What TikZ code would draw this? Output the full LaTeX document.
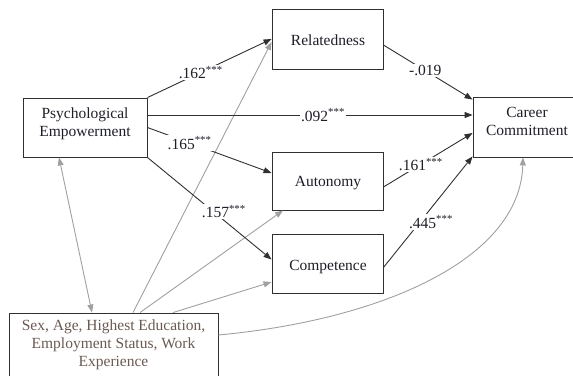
\documentclass[tikz,border=0pt]{standalone}
\usepackage{fontspec}
\setmainfont{Liberation Serif}
\usetikzlibrary{arrows.meta,calc}
\definecolor{lineblk}{HTML}{303030}
\definecolor{linegry}{HTML}{A0A0A0}
\definecolor{txtblk}{HTML}{1E1E28}
\definecolor{txtbrn}{HTML}{6A5A52}
\tikzset{
  box/.style={draw=lineblk, line width=0.9pt, rectangle, inner sep=0pt},
  txt/.style={inner sep=0pt, align=center, text=txtblk, font=\fontsize{15.5}{18}\selectfont},
  lbl/.style={fill=white, inner sep=1.5pt, text=txtblk, font=\fontsize{15.5}{18}\selectfont},
  blkarrow/.style={draw=lineblk, line width=0.9pt, -{Triangle[length=8pt,width=6pt]}},
  gryarrow/.style={draw=linegry, line width=0.9pt, -{Triangle[length=8pt,width=6pt]}},
}
\newcommand{\stars}{\textsuperscript{***}}
\begin{document}
\begin{tikzpicture}[x=1pt,y=-1pt]
\useasboundingbox (0,0) rectangle (573,375);
% boxes
\node[box, minimum width=124pt, minimum height=59pt] (pe) at (85,127.5) {};
\node[txt] (pet) at (85,124) {Psychological\\Empowerment};
\node[box, minimum width=111pt, minimum height=60pt] (rel) at (327.5,39) {};
\node[txt] (relt) at (328,40) {Relatedness};
\node[box, minimum width=111pt, minimum height=58pt] (aut) at (327.5,181) {};
\node[txt] (autt) at (328,183) {Autonomy};
\node[box, minimum width=111pt, minimum height=59pt] (com) at (327.5,263.5) {};
\node[txt] (comt) at (328,267) {Competence};
\node[box, minimum width=108pt, minimum height=60pt] (cc) at (527,127) {};
\node[txt] (cct) at (527,121) {Career\\Commitment};
\node[box, minimum width=209pt, minimum height=72pt] (bot) at (113.5,349) {};
\node[txt, text=txtbrn] (bott) at (113.5,345) {Sex, Age, Highest Education,\\Employment Status, Work\\Experience};
% grey paths
\draw[gryarrow, {Triangle[length=8pt,width=6pt]}-{Triangle[length=8pt,width=6pt]}] ([xshift=-26pt]pe.south) -- ([xshift=-21.5pt]bot.north);
\draw[gryarrow] ([xshift=19.5pt]bot.north) -- ([yshift=-3pt]rel.west);
\draw[gryarrow] ([xshift=26.5pt]bot.north) -- ([xshift=-44.5pt]aut.south);
\draw[gryarrow] ([xshift=59.5pt]bot.north) -- ([yshift=-18.5pt]com.west);
\draw[gryarrow] ([yshift=14pt]bot.east) .. controls (380,320) and (520,260) .. ([xshift=-4pt]cc.south);
% black paths
\draw[blkarrow] (pe.north east) -- node[lbl, pos=0.43] {.162\stars} (rel.west);
\draw[blkarrow] ([yshift=12.5pt]pe.east) -- node[lbl, pos=0.54] {.092\stars} ([yshift=12.5pt]pe.east -| cc.west);
\draw[blkarrow] (pe.east) -- node[lbl, pos=0.34] {.165\stars} ([yshift=8pt]aut.west);
\draw[blkarrow] (pe.south east) -- node[lbl, pos=0.616, yshift=9pt] {.157\stars} ([yshift=4pt]com.west);
\draw[blkarrow] ([yshift=-6pt]rel.east) -- node[lbl, pos=0.47] {-.019} ([yshift=-3pt]cc.north west);
\draw[blkarrow] ([yshift=-6pt]aut.east) -- node[lbl, pos=0.42] {.161\stars} ([yshift=-6pt]cc.west);
\draw[blkarrow] ([yshift=-4pt]com.east) -- node[lbl, pos=0.5, xshift=3pt, yshift=-10pt] {.445\stars} ([yshift=1pt]cc.south west);
\end{tikzpicture}
\end{document}
